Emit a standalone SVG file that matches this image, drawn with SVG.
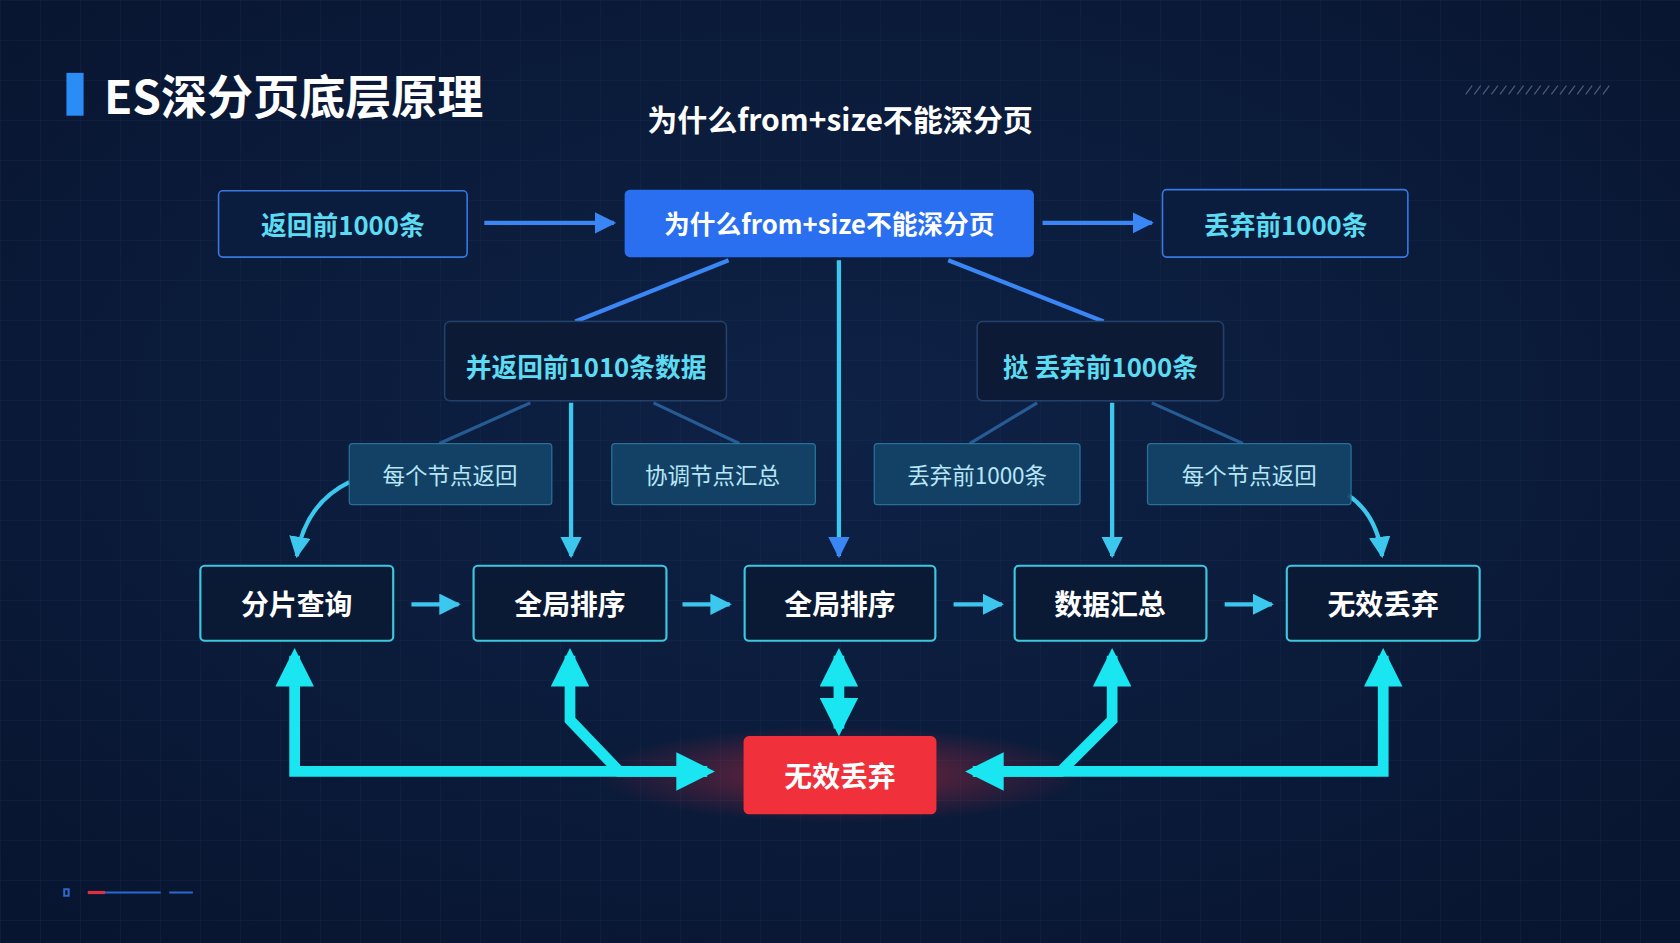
<svg xmlns="http://www.w3.org/2000/svg" width="1680" height="943" viewBox="0 0 1680 943">
<defs>
<pattern id="grid" width="40" height="40" patternUnits="userSpaceOnUse"><path d="M40 0H0V40" fill="none" stroke="#1c3458" stroke-width="1" opacity="0.5"/></pattern>
<radialGradient id="bg" cx="50%" cy="45%" r="70%"><stop offset="0" stop-color="#0e2246"/><stop offset="1" stop-color="#081530"/></radialGradient>
<radialGradient id="glow" cx="50%" cy="50%" r="50%"><stop offset="0" stop-color="#ff3040" stop-opacity="0.45"/><stop offset="1" stop-color="#ff3040" stop-opacity="0"/></radialGradient>
<marker id="ab" viewBox="0 0 10 10" refX="9" refY="5" markerWidth="5" markerHeight="5" orient="auto-start-reverse"><path d="M0 0L10 5L0 10z" fill="#3a86f5"/></marker>
<marker id="ac" viewBox="0 0 10 10" refX="9" refY="5" markerWidth="5" markerHeight="5" orient="auto-start-reverse"><path d="M0 0L10 5L0 10z" fill="#3cc8ee"/></marker>
<marker id="at" viewBox="0 0 10 10" refX="8" refY="5" markerWidth="3.6" markerHeight="3.6" orient="auto-start-reverse"><path d="M0 0L10 5L0 10z" fill="#19e6f0"/></marker>
<style>
.t{font-family:"Noto Sans CJK SC","Noto Sans",sans-serif;text-anchor:middle;dominant-baseline:central}
.top{fill:#0b1d3e;stroke:#3a78e0;stroke-width:1.5}
.mid{fill:#0c1a36;stroke:#22406a;stroke-width:1.5}
.sm{fill:#14456a;stroke:#2a7aa0;stroke-width:1.2;opacity:0.9}
.bot{fill:#0a1a34;stroke:#3cc8e0;stroke-width:2}
.cy{fill:#5cdcf2;font-size:24px;font-weight:700}
.lb{fill:#b8e6f6;font-size:21px}
.wb{fill:#fff;font-size:26px;font-weight:700}
.bl{stroke:#3a86f5;stroke-width:4;fill:none}
.fl{stroke:#2d6aa8;stroke-width:3;fill:none;opacity:0.8}
.cl{stroke:#3cc8ee;stroke-width:4;fill:none}
.th{stroke:#19e6f0;stroke-width:10;fill:none;stroke-linejoin:miter}
</style>
</defs>
<rect width="1680" height="943" fill="url(#bg)"/>
<rect width="1680" height="943" fill="url(#grid)"/>
<g transform="scale(1.07143)">
<rect x="62" y="68" width="16" height="40" fill="#2a8cf5"/>
<text class="t" x="97" y="88" style="text-anchor:start;fill:#fff;font-size:43px;font-weight:700">ES深分页底层原理</text>
<text class="t" x="784" y="110" style="fill:#fff;font-size:28px;font-weight:700">为什么from+size不能深分页</text>
<path d="M1368 88l6 -8M1376 88l6 -8M1384 88l6 -8M1392 88l6 -8M1400 88l6 -8M1408 88l6 -8M1416 88l6 -8M1424 88l6 -8M1432 88l6 -8M1440 88l6 -8M1448 88l6 -8M1456 88l6 -8M1464 88l6 -8M1472 88l6 -8M1480 88l6 -8M1488 88l6 -8M1496 88l6 -8" stroke="#4a5a78" stroke-width="1.2"/>
<path d="M60 830h4v6h-4zM82 833h16M98 833h52M158 833h22" stroke-width="2" stroke="#2a6ad0"/>
<path d="M82 833h16" stroke="#e03040" stroke-width="3"/>
<ellipse cx="784" cy="723" rx="230" ry="45" fill="url(#glow)"/>
<g id="connectors">
<path class="bl" d="M452 208H573" marker-end="url(#ab)"/>
<path class="bl" d="M973 208H1075" marker-end="url(#ab)"/>
<path class="bl" d="M680 243L537 300M885 243L1030 300"/>
<path class="cl" d="M783 243V519" stroke="#3a86f5" marker-end="url(#ab)"/>
<path class="fl" d="M495 376L410 414M610 376L690 414M968 376L905 414M1075 376L1160 414"/>
<path class="cl" d="M533 376V519" marker-end="url(#ac)"/>
<path class="cl" d="M1038 376V519" marker-end="url(#ac)"/>
<path class="cl" d="M326 450Q285 470 277 519" marker-end="url(#ac)"/>
<path class="cl" d="M1258 462Q1285 480 1290 519" marker-end="url(#ac)"/>
<path class="cl" d="M384 564H428" marker-end="url(#ac)"/>
<path class="cl" d="M637 564H681" marker-end="url(#ac)"/>
<path class="cl" d="M890 564H935" marker-end="url(#ac)"/>
<path class="cl" d="M1143 564H1187" marker-end="url(#ac)"/>
<path class="th" d="M275 612V720H660" marker-start="url(#at)" marker-end="url(#at)"/>
<path class="th" d="M532 612V672L578 720H660" marker-start="url(#at)"/>
<path class="th" d="M1291 612V720H908" marker-start="url(#at)" marker-end="url(#at)"/>
<path class="th" d="M1038 612V672L990 720H908" marker-start="url(#at)"/>
<path class="th" d="M783 612V680" marker-start="url(#at)" marker-end="url(#at)"/>
</g>
<g id="n1"><rect class="top" x="204" y="178" width="232" height="62" rx="4"/><text class="t cy" x="320" y="209">返回前1000条</text></g>
<g id="n2"><rect x="583" y="177" width="382" height="63" rx="5" fill="#2a6ff0"/><text class="t" x="774" y="208" style="fill:#fff;font-size:24px;font-weight:700">为什么from+size不能深分页</text></g>
<g id="n3"><rect class="top" x="1085" y="177" width="229" height="63" rx="4"/><text class="t cy" x="1200" y="209">丢弃前1000条</text></g>
<g id="n4"><rect class="mid" x="415" y="300" width="263" height="74" rx="5"/><text class="t cy" x="547" y="341">并返回前1010条数据</text></g>
<g id="n5"><rect class="mid" x="912" y="300" width="230" height="74" rx="5"/><text class="t cy" x="1027" y="341">挞 丢弃前1000条</text></g>
<g id="n6"><rect class="sm" x="326" y="414" width="189" height="57" rx="3"/><text class="t lb" x="420" y="442">每个节点返回</text></g>
<g id="n7"><rect class="sm" x="571" y="414" width="190" height="57" rx="3"/><text class="t lb" x="665" y="442">协调节点汇总</text></g>
<g id="n8"><rect class="sm" x="816" y="414" width="192" height="57" rx="3"/><text class="t lb" x="912" y="442">丢弃前1000条</text></g>
<g id="n9"><rect class="sm" x="1071" y="414" width="190" height="57" rx="3"/><text class="t lb" x="1166" y="442">每个节点返回</text></g>
<g id="b1"><rect class="bot" x="187" y="528" width="180" height="70" rx="4"/><text class="t wb" x="277" y="563">分片查询</text></g>
<g id="b2"><rect class="bot" x="442" y="528" width="180" height="70" rx="4"/><text class="t wb" x="532" y="563">全局排序</text></g>
<g id="b3"><rect class="bot" x="695" y="528" width="178" height="70" rx="4"/><text class="t wb" x="784" y="563">全局排序</text></g>
<g id="b4"><rect class="bot" x="947" y="528" width="179" height="70" rx="4"/><text class="t wb" x="1036" y="563">数据汇总</text></g>
<g id="b5"><rect class="bot" x="1201" y="528" width="180" height="70" rx="4"/><text class="t wb" x="1291" y="563">无效丢弃</text></g>
<g id="red"><rect x="694" y="687" width="180" height="73" rx="5" fill="#f0303a"/><text class="t wb" x="784" y="723">无效丢弃</text></g>
</g>
</svg>
